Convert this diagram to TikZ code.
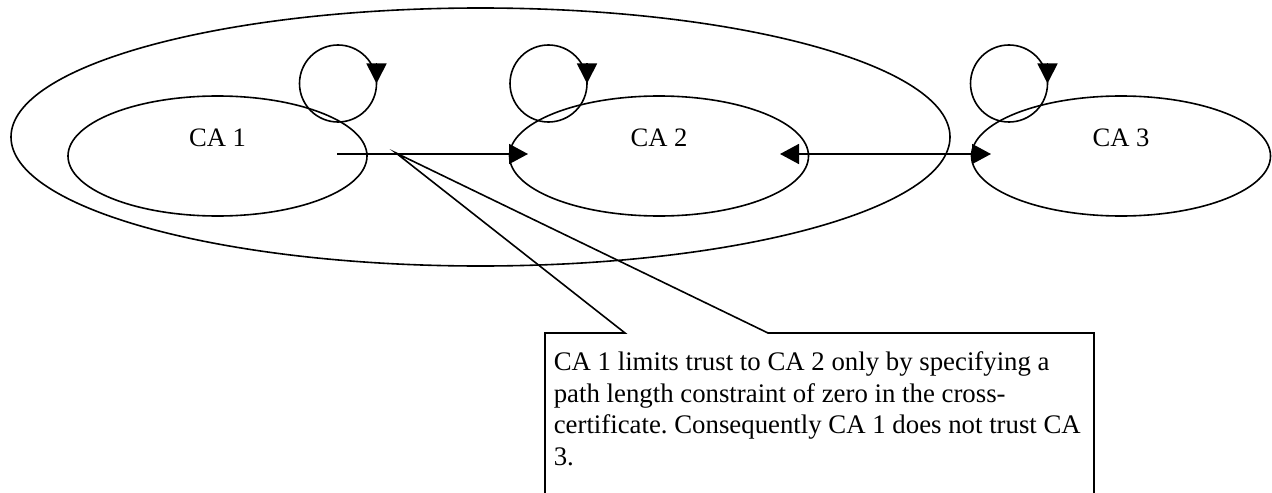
\documentclass[tikz,border=0pt]{standalone}
\usepackage{fontspec}
\setmainfont{Liberation Serif}
\usetikzlibrary{shapes.geometric,arrows.meta}
\frenchspacing
\begin{document}
\begin{tikzpicture}[x=0.5pt,y=-0.5pt,
  line width=0.8pt,
  caell/.style={draw,ellipse,minimum width=149.5pt,minimum height=60pt,inner sep=0pt},
  domainell/.style={draw,ellipse,minimum width=469.5pt,minimum height=129pt,inner sep=0pt},
  catext/.style={font=\fontsize{13.3}{15.75}\selectfont,inner sep=0pt},
  looptip/.style={-{Triangle[length=10pt,width=10pt]}},
  linktip/.style={-{Triangle[length=9.5pt,width=10pt]}},
  dbltip/.style={{Triangle[length=9.5pt,width=10pt]}-{Triangle[length=9.5pt,width=10pt]}},
  notetext/.style={font=\fontsize{13.4}{15.75}\selectfont,inner sep=0pt,align=left,anchor=north west}
]
\useasboundingbox (0,0) rectangle (1272,492);
% trust domain
\node[domainell] (domain) at (480.5,137) {};
% CAs
\node[caell] (ca1) at (217.5,156) {};
\node[caell] (ca2) at (659,156) {};
\node[caell] (ca3) at (1121,156) {};
\node[catext] (ca1t) at ([yshift=9pt]ca1.center) {CA 1};
\node[catext] (ca2t) at ([yshift=9pt]ca2.center) {CA 2};
\node[catext] (ca3t) at ([yshift=9pt]ca3.center) {CA 3};
% self loops
\coordinate (l1) at (338,83.5);
\coordinate (l2) at (548.5,83.5);
\coordinate (l3) at (1009,83.5);
\foreach \c in {l1,l2,l3}{
  \draw (\c) circle[radius=38.5];
  \draw[looptip] ([shift={(38.5,-20)}]\c) -- ([shift={(38.5,0)}]\c);
}
% cross-certification links
\coordinate (a1) at (337,154);
\coordinate (a2) at (528,154);
\coordinate (b2) at (780,154);
\coordinate (b3) at (991,154);
\draw[linktip] (a1) -- (a2);
\draw[dbltip] (b2) -- (b3);
% callout
\coordinate (cv) at (396,153);
\coordinate (cl) at (625,333);
\coordinate (cr) at (768,333);
\coordinate (bl) at (545,333);
\coordinate (br) at (1094,333);
\coordinate (bbl) at (545,520);
\coordinate (bbr) at (1094,520);
\draw (bbl) -- (bl) -- (cl) -- (cv) -- (cr) -- (br) -- (bbr);
\node[notetext] (note) at (553,351) {CA 1 limits trust to CA 2 only by specifying a\\path length constraint of zero in the cross-\\certificate. Consequently CA 1 does not trust CA\\3.};
\end{tikzpicture}
\end{document}
